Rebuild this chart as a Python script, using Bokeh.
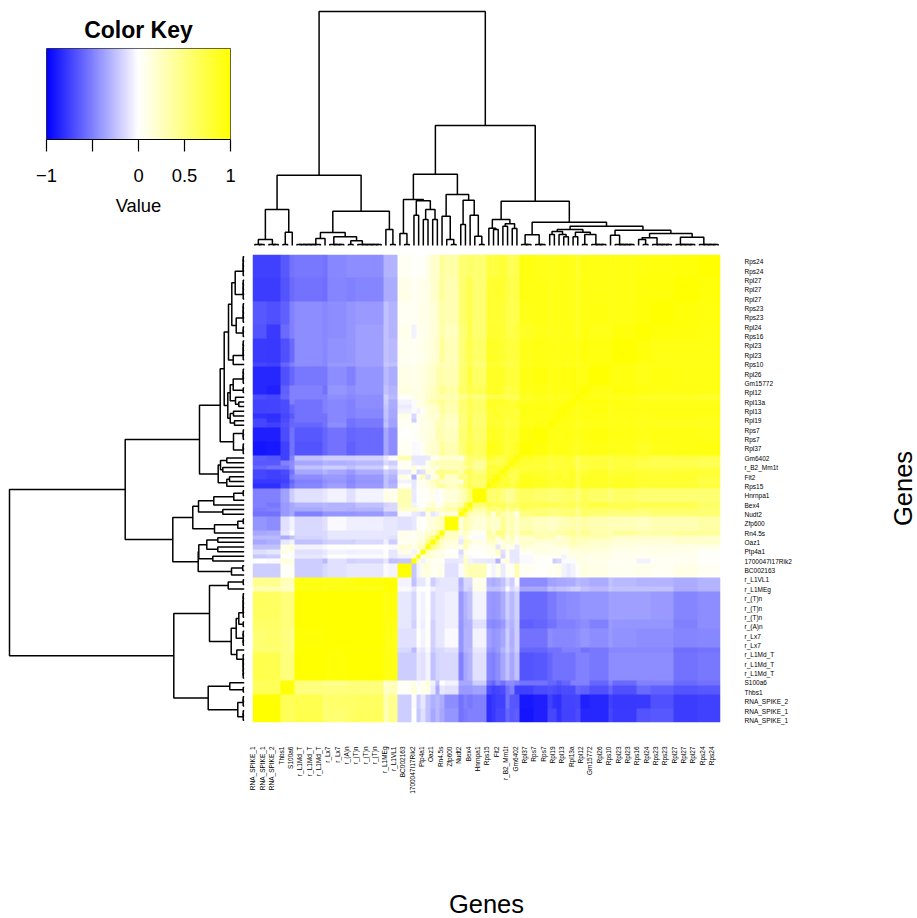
import numpy as np
from bokeh.embed import file_html
from bokeh.resources import INLINE
from bokeh.plotting import figure
from bokeh.layouts import column, row
from bokeh.models import LinearColorMapper, FixedTicker, Range1d

FONT = "Liberation Sans"

# genes shown on the axes, left to right (every other column is labelled)
column_labels = ["RNA_SPIKE_1", "RNA_SPIKE_1", "RNA_SPIKE_2", "Thbs1", "S100a6", "r_L1Md_T", "r_L1Md_T", "r_L1Md_T",
                 "r_Lx7", "r_Lx7", "r_(A)n", "r_(T)n", "r_(T)n", "r_(T)n", "r_L1MEg", "r_L1VL1", "BC002163",
                 "1700047I17Rik2", "Ptp4a1", "Oaz1", "Rn4.5s", "Zfp600", "Nudt2", "Bex4", "Hnrnpa1", "Rps15", "Fit2",
                 "r_B2_Mm1t", "Gm6402", "Rpl37", "Rps7", "Rps7", "Rpl19", "Rpl13", "Rpl13a", "Rpl12", "Gm15772",
                 "Rpl26", "Rps10", "Rpl23", "Rpl23", "Rps16", "Rpl24", "Rps23", "Rps23", "Rpl27", "Rpl27", "Rpl27",
                 "Rps24", "Rps24"]

# blocks of equal colour along the diagonal, in number of genes, left to right
block_sizes = [3, 3, 2, 1, 6, 1, 4, 2, 6, 1, 2,
               3, 1, 1, 1, 1, 1, 1, 1, 3, 1, 1, 1, 3,
               1, 1, 1, 1, 1, 1, 1, 3, 3,
               1, 1, 1, 1, 1, 1, 1, 2, 4, 1, 5, 3, 5, 5, 5]

# correlation x 100 between blocks: upper triangle
block_rows = [
 [100,100,65,62,70,55,55,60,63,30,45,-20,0,-22,-13,-25,-35,-28,-35,-42,-55,-52,-50,-50,-82,-78,-72,-72,-60,-65,-63,-92,-88,-72,-72,-80,-74,-74,-74,-70,-85,-85,-72,-77,-67,-65,-76,-75],
 [100,65,65,68,55,58,60,62,30,45,-20,-2,-20,-10,-25,-32,-28,-33,-45,-55,-50,-53,-50,-82,-78,-75,-75,-55,-65,-66,-90,-88,-75,-80,-82,-73,-73,-73,-72,-87,-85,-75,-78,-77,-68,-76,-75],
 [100,95,50,50,50,52,52,22,28,3,15,2,8,10,-10,-33,-10,-12,-40,-40,-40,-37,-70,-75,-72,-70,-55,-50,-75,-75,-70,-68,-70,-72,-70,-70,-70,-60,-62,-68,-60,-68,-58,-62,-67,-65],
 [100,50,45,45,50,50,20,25,5,10,-2,5,15,-5,-25,0,-5,-35,-35,-35,-20,-55,-60,-50,-55,-45,-45,-50,-55,-55,-60,-60,-65,-60,-60,-50,-50,-50,-60,-50,-58,-50,-50,-58,-55],
 [100,98,97,100,100,92,92,-20,-20,-10,-12,-5,-25,-17,-15,-15,-50,-35,-30,-12,-48,-50,-45,-35,-25,-35,-25,-67,-65,-60,-55,-55,-55,-55,-55,-50,-50,-53,-45,-45,-45,-45,-55,-53],
 [100,97,98,98,90,90,-15,-28,-7,-10,-3,-20,-15,-15,-12,-42,-30,-28,-10,-42,-45,-40,-30,-20,-30,-20,-60,-60,-55,-55,-55,-50,-50,-50,-50,-55,-53,-47,-47,-47,-47,-57,-55],
 [100,100,100,92,90,-12,-12,2,-5,3,-18,-10,-10,-3,-42,-30,-30,-5,-38,-42,-40,-35,-20,-32,-20,-55,-55,-45,-47,-47,-47,-47,-47,-45,-42,-45,-40,-43,-45,-45,-48,-47],
 [100,100,92,92,-10,-18,-2,-7,0,-18,-10,-10,-7,-42,-32,-30,-12,-45,-47,-45,-40,-25,-30,-20,-62,-60,-55,-55,-50,-50,-50,-50,-47,-45,-50,-40,-42,-42,-42,-50,-45],
 [100,92,95,-10,-17,-2,-5,2,-15,-10,-10,-7,-40,-30,-25,-5,-40,-42,-40,-33,-20,-28,-18,-58,-58,-52,-52,-47,-47,-45,-45,-45,-42,-42,-38,-38,-38,-40,-48,-45],
 [100,100,-3,-10,2,0,0,-7,-10,-10,-10,-30,-15,-18,10,-25,-25,-25,-20,-2,-15,-10,-35,-35,-25,-28,-25,-25,-22,-20,-18,-25,-28,-22,-25,-25,-25,-33,-30],
 [100,-5,-25,-10,-10,-2,-20,-12,-10,-10,-32,-15,-15,8,-30,-33,-30,-25,-12,-20,-2,-45,-45,-37,-37,-35,-35,-33,-33,-28,-30,-33,-25,-28,-30,-30,-33,-30],
 [100,-22,-5,10,15,5,8,8,-12,-2,20,30,30,3,-5,10,-8,5,5,30,5,2,5,5,10,-5,-8,-5,3,12,10,7,7,8,5,10,5],
 [100,20,-5,10,5,5,5,-10,-8,25,-5,-8,-10,-10,-30,10,15,-8,-10,-3,3,3,-20,-15,-2,-2,-2,10,10,8,5,5,-5,5,5,2],
 [100,10,20,15,10,10,5,-10,15,-2,0,3,10,5,-15,0,-10,-10,-2,5,2,5,8,-5,10,10,15,8,10,10,7,5,7,7,3],
 [100,25,15,10,10,0,-15,10,2,2,10,5,25,-12,10,-10,-10,5,10,10,10,5,5,10,12,10,15,12,10,8,8,10,8,3],
 [100,50,30,20,10,10,30,10,5,10,15,-10,15,5,10,-8,15,12,10,10,15,15,15,25,20,18,18,15,12,10,10,10,10],
 [100,50,20,15,-10,30,20,10,20,25,10,10,20,20,10,20,15,15,15,20,20,20,30,25,25,20,20,15,15,15,20,20],
 [100,45,22,-5,20,5,-2,30,35,15,40,10,30,5,20,30,25,30,10,20,25,35,30,30,30,25,20,20,20,22,20],
 [100,25,15,25,10,5,40,20,50,50,25,30,20,40,30,30,30,35,40,40,45,30,45,35,30,40,35,35,40,40],
 [100,15,35,25,15,25,20,20,45,25,30,20,30,25,22,22,25,30,30,35,30,35,30,28,28,25,30,30,35],
 [100,70,30,25,40,10,50,30,30,30,10,50,55,50,50,50,55,55,55,45,60,55,50,50,50,55,55,55],
 [100,70,35,50,55,45,60,35,50,40,60,55,50,50,55,55,55,55,45,60,60,55,60,55,60,60,55],
 [100,55,70,60,65,65,55,55,60,70,70,70,70,65,65,65,70,60,70,75,70,70,70,70,70,60],
 [100,60,55,60,50,40,40,55,62,58,55,55,55,60,60,60,50,65,60,50,60,55,55,55,55],
 [100,85,80,75,80,70,80,90,85,80,80,80,80,85,85,70,85,85,80,85,80,80,80,75],
 [100,90,75,80,70,75,90,88,82,82,82,85,85,85,72,85,85,80,85,82,80,80,72],
 [100,80,80,65,70,88,85,78,80,85,80,80,85,70,85,85,80,83,80,80,82,75],
 [100,80,70,70,82,82,80,80,80,80,82,85,70,80,85,75,80,80,78,80,80],
 [100,80,80,75,75,70,75,75,75,80,80,65,70,75,70,75,70,70,72,70],
 [100,85,80,80,75,75,80,80,80,75,65,75,78,70,75,70,68,68,65],
 [100,85,80,75,80,75,75,85,80,65,75,75,72,75,75,70,72,70],
 [100,95,90,90,92,92,92,88,85,90,92,88,90,85,90,92,93],
 [100,92,92,90,92,92,90,88,92,95,90,92,90,92,92,90],
 [100,93,92,92,90,88,85,88,90,90,90,88,88,88,88],
 [100,93,92,92,92,88,92,92,88,90,90,90,90,88],
 [100,95,92,92,87,92,92,88,90,88,90,90,90],
 [100,95,92,88,92,95,88,92,92,92,92,92],
 [100,95,88,92,93,88,90,90,90,90,90],
 [100,92,95,95,90,93,90,90,90,90],
 [100,92,90,87,88,85,85,85,82],
 [100,92,90,95,93,92,92,92],
 [100,95,93,90,93,92,92],
 [100,93,90,90,90,90],
 [100,95,92,92,92],
 [100,96,95,93],
 [100,96,94],
 [100,96],
 [100],
]


def rd(*leaves):
    """Tight run of leaves merging at a very small height, nested towards the end."""
    node = leaves[-1]
    for leaf in reversed(leaves[:-1]):
        node = [1, leaf, node]
    return node


def ld(*leaves):
    """Tight run of leaves merging at a very small height, nested towards the start."""
    node = leaves[0]
    for leaf in leaves[1:]:
        node = [1, node, leaf]
    return node


# dendrograms: [merge height, child, child]; an integer is a gene's column
top_tree = [234,
    [70.3,
        [36, [6, rd(0, 1, 2), rd(3, 4, 5)], [13.3, [1, 6, 7], 8]],
        [34.3,
            [13,
                [7, ld(9, 10, 11, 12, 13, 14), 15],
                [8.7, rd(16, 17, 18, 19), [4.7, [1, 20, 21], rd(22, 23, 24, 25, 26, 27)]]],
            [16, 28, [1, 29, 30]]]],
    [120,
        [71.3,
            [46, [12, 31, [1, 32, 33]],
                 [44.7, [30.3, 34, 35], [36, [26, 36, 37], [26, 38, 39]]]],
            [51, [29.3, 40, [6, 41, [1, 42, 43]]],
                 [45.3, [21, 44, 45], [30.3, 46, [9.3, 47, [1, 48, 49]]]]]],
        [44.3,
            [26, [17.3, 50, [16, 51, 52]], [21.7, [19.3, 53, 54], [17, 55, 56]]],
            [23.3,
                [10.7, rd(57, 58, 59), rd(60, 61, 62)],
                [19.3,
                    [16,
                        [14, [11, 63, 64], [11, 65, [8.7, 66, 67]]],
                        [13.3, [8.7, 68, 69], [11, [1, 70, 71], rd(72, 73, 74, 75)]]],
                    [15.3,
                        [10.3, 76, rd(77, 78, 79, 80, 81)],
                        [12,
                            [7.7, [6, 82, [1, 83, 84]], rd(85, 86, 87, 88, 89)],
                            [8.3, rd(90, 91, 92, 93, 94), rd(95, 96, 97, 98, 99)]]]]]]]]

left_tree = [234.7,
    [119,
        [44.7,
            [24,
                [20,
                    [15.7,
                        [12.4, [9, rd(95, 96, 97, 98, 99), rd(90, 91, 92, 93, 94)], [8, rd(85, 86, 87, 88, 89), rd(82, 83, 84)]],
                        [11, rd(77, 78, 79, 80, 81), 76]],
                    [16.4,
                        [14, [11, rd(72, 73, 74, 75), [1, 70, 71]], [8.7, 69, [5.4, 68, 67]]],
                        [14, [10.7, 66, 65], [9.7, 64, 63]]]],
                [10.7, ld(60, 61, 62), rd(57, 58, 59)]],
            [26,
                [23.7, [17.4, 56, 55], [21.4, 54, 53]],
                [17.4, [14.7, 52, 51], 50]]],
        [71.4,
            [51.4,
                [45.7, [30.4, [10.4, [1, 49, 48], 47], 46], [21.4, 45, 44]],
                [29.7, [6.4, [1, 43, 42], 41], 40]],
            [46,
                [45.4, [37.4, [26.4, 39, 38], [26.4, 37, 36]], [31.4, 35, 34]],
                [12.7, [1.5, 33, 32], 31]]]],
    [70.4,
        [34.7,
            [16, [1, 30, 29], 28],
            [13,
                [8, [5.4, rd(22, 23, 24, 25, 26, 27), [1, 20, 21]], [1, [1, 16, 17], [1, 18, 19]]],
                [7.4, 15, ld(9, 10, 11, 12, 13, 14)]]],
        [36,
            [14.4, 8, [1, 7, 6]],
            [6.4, rd(3, 4, 5), rd(0, 1, 2)]]]]

key_ticks = [-1, -0.5, 0, 0.5, 1]
key_tick_labels = {-1: "\u22121", -0.5: "", 0: "0", 0.5: "0.5", 1: "1"}


def tree_segments(node):
    """Returns (position, height, segment lists along the leaves, segment lists along the height)."""
    if not isinstance(node, list):
        return node + 0.5, 0.0, [], []
    h, a, b = node
    pa, ha, la, ya = tree_segments(a)
    pb, hb, lb, yb = tree_segments(b)
    return (pa + pb) / 2, h, la + lb + [[pa, pa, pb, pb]], ya + yb + [[ha, h, h, hb]]


# colours: blue - white - yellow over -1 .. 1
ramp = np.linspace(0, 1, 128)
palette = ["#%02x%02x%02x" % (int(round(255 * t)), int(round(255 * t)), 255) for t in ramp] + \
          ["#%02x%02x%02x" % (255, 255, int(round(255 * (1 - t)))) for t in ramp]
mapper = LinearColorMapper(palette=palette, low=-1, high=1)

# block table -> gene by gene matrix
n_blocks = len(block_sizes)
table = np.zeros((n_blocks, n_blocks))
for i, values in enumerate(block_rows):
    assert len(values) == n_blocks - i, (i, len(values))
    for j, v in enumerate(values):
        table[i, i + j] = table[i + j, i] = v / 100.0
matrix = np.repeat(np.repeat(table, block_sizes, axis=0), block_sizes, axis=1)
upscaled = np.repeat(np.repeat(matrix, 10, axis=0), 10, axis=1)

# colour key
key = figure(width=245, height=247, output_backend="svg", toolbar_location=None,
             x_range=Range1d(-1, 1), y_range=Range1d(0, 1),
             min_border_left=39, min_border_right=22, min_border_top=41, min_border_bottom=115,
             y_axis_location=None, title="Color Key")
key_values = np.linspace(-1, 1, 256).reshape(1, -1)
key.image(image=[key_values], x=-1, y=0, dw=2, dh=1, color_mapper=mapper)
key.grid.visible = False
key.outline_line_color = "#333333"
key.outline_line_width = 1
key.title.text_font = FONT
key.title.text_font_size = "23px"
key.title.text_font_style = "bold"
key.title.text_color = "black"
key.title.align = "center"
key.title.offset = 0
key.title.standoff = 12
ax = key.xaxis[0]
ax.ticker = FixedTicker(ticks=key_ticks)
ax.major_label_overrides = key_tick_labels
ax.major_label_text_font = FONT
ax.major_label_text_font_size = "18.4px"
ax.major_label_text_color = "black"
ax.major_label_standoff = 17
ax.major_tick_in = 0
ax.major_tick_out = 12
ax.major_tick_line_color = "black"
ax.major_tick_line_width = 1.2
ax.minor_tick_line_color = None
ax.axis_line_color = "black"
ax.axis_label = "Value"
ax.axis_label_text_font = FONT
ax.axis_label_text_font_size = "18.4px"
ax.axis_label_text_font_style = "normal"
ax.axis_label_text_color = "black"
ax.axis_label_standoff = 10

# top dendrogram
_, _, tx, th = tree_segments(top_tree)
top = figure(width=468, height=247, output_backend="svg", toolbar_location=None,
             x_range=Range1d(0, 100), y_range=Range1d(-9, 238),
             x_axis_location=None, y_axis_location=None,
             min_border_left=0, min_border_right=0, min_border_top=0, min_border_bottom=0, outline_line_color=None)
top.grid.visible = False
top.multi_line(xs=tx, ys=th, line_color="black", line_width=1.5)

# left dendrogram
_, _, lx, lh = tree_segments(left_tree)
left = figure(width=238, height=468, output_backend="svg", toolbar_location=None,
              x_range=Range1d(236.7, -1.3), y_range=Range1d(0, 100),
              x_axis_location=None, y_axis_location=None,
              min_border_left=0, min_border_right=0, min_border_top=0, min_border_bottom=0, outline_line_color=None)
left.grid.visible = False
left.multi_line(xs=lh, ys=lx, line_color="black", line_width=1.5)

# heat map
heat = figure(frame_width=468, frame_height=468, output_backend="svg", toolbar_location=None,
              x_range=Range1d(0, 100), y_range=Range1d(0, 100), y_axis_location="right",
              min_border_left=7, min_border_right=166, min_border_top=0, min_border_bottom=0, outline_line_color=None)
heat.image(image=[upscaled], x=0, y=0, dw=100, dh=100, color_mapper=mapper)
heat.grid.visible = False

col_pos = [round(2 * i + 0.1, 2) for i in range(len(column_labels))]
row_pos = [round(2 * i + 0.45, 2) for i in range(len(column_labels))]

bx = heat.xaxis[0]
bx.ticker = FixedTicker(ticks=col_pos)
bx.major_label_overrides = {p: s for p, s in zip(col_pos, column_labels)}
bx.major_label_orientation = np.pi / 2
by = heat.yaxis[0]
by.ticker = FixedTicker(ticks=row_pos)
by.major_label_overrides = {p: s for p, s in zip(row_pos, column_labels)}
for axis in (bx, by):
    axis.major_label_text_font = FONT
    axis.major_label_text_font_size = "6.5px"
    axis.major_label_text_color = "black"
    axis.major_label_standoff = 18
    axis.major_tick_line_color = None
    axis.minor_tick_line_color = None
    axis.axis_line_color = None
bx.axis_label = "Genes"
bx.axis_label_text_font = FONT
bx.axis_label_text_font_size = "25.5px"
bx.axis_label_text_font_style = "normal"
bx.axis_label_text_color = "black"
bx.axis_label_standoff = 93

# a thin panel to the right of the heat map carries the side title, reading upward like the reference
side = figure(width=30, height=468, output_backend="svg", toolbar_location=None,
              x_range=Range1d(0, 1), y_range=Range1d(0, 1), x_axis_location=None,
              min_border_left=0, min_border_right=0, min_border_top=0, min_border_bottom=0, outline_line_color=None)
side.grid.visible = False
sy = side.yaxis[0]
sy.ticker = FixedTicker(ticks=[])
sy.major_label_text_font_size = "0px"
sy.major_label_standoff = 0
sy.major_tick_line_color = None
sy.minor_tick_line_color = None
sy.axis_line_color = None
sy.axis_label = "Genes"
sy.axis_label_text_font = FONT
sy.axis_label_text_font_size = "25.5px"
sy.axis_label_text_font_style = "normal"
sy.axis_label_text_color = "black"
sy.axis_label_standoff = 0

page = column(row(column(key), column(top), spacing=0), row(column(left), column(heat), column(side), spacing=0),
              spacing=0, margin=(7, 0, 0, 7))
open("out.html", "w").write(file_html(page, INLINE))
